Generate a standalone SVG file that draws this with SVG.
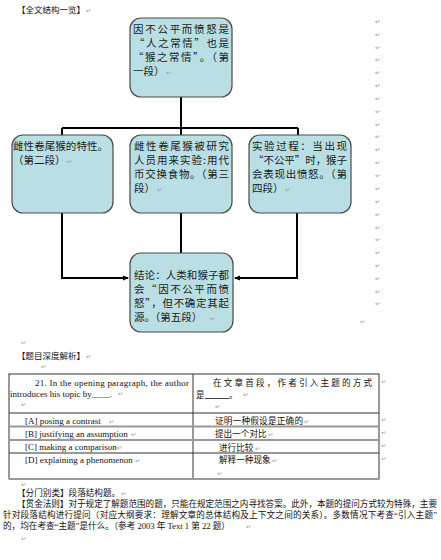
<svg xmlns="http://www.w3.org/2000/svg" width="441" height="560" viewBox="0 0 441 560">
<defs>
<style>
.box{fill:#b9dfe5;stroke:#4a4a4a;stroke-width:1.2}
.bt{font-family:"Noto Sans CJK SC","Noto Sans",sans-serif;font-size:10.5px;fill:#1a1a1a}
.hd{font-family:"Liberation Serif","Noto Sans CJK SC",serif;font-size:8.5px;fill:#111}
.en{font-family:"Liberation Serif","Times New Roman",serif;font-size:9px;fill:#111}
.cn{font-family:"Liberation Serif","Noto Sans CJK SC",serif;font-size:8.6px;fill:#111}
.rm{font-family:"DejaVu Sans",sans-serif;font-size:6.5px;fill:#9a9a9a}
.ln{stroke:#000;stroke-width:2;fill:none}
.tb{stroke:#333;stroke-width:1;fill:none}
.tg{stroke:#999;stroke-width:2;fill:none}
</style>
<marker id="ar" markerWidth="6" markerHeight="6" refX="5" refY="3" orient="auto" markerUnits="userSpaceOnUse">
<path d="M0,0.5 L6,3 L0,5.5 z" fill="#000"/>
</marker>
</defs>
<rect width="441" height="560" fill="#fff"/>

<text class="hd" x="17" y="13">【全文结构一览】</text><text class="rm" x="86" y="13">↵</text>

<g id="connectors">
<path class="ln" d="M181,97 V128"/>
<path class="ln" d="M62,128 H298"/>
<path class="ln" d="M62,128 V135 M181,128 V135 M298,128 V135"/>
<path class="ln" d="M62,213 V278 H128" marker-end="url(#ar)"/>
<path class="ln" d="M181,213 V253"/>
<path class="ln" d="M297,213 V278 H235" marker-end="url(#ar)"/>
</g>

<g id="node-top">
<rect class="box" x="130" y="18" width="102" height="79" rx="11"/>
<text class="bt" x="133" y="33" textLength="96" lengthAdjust="spacing">因不公平而愤怒是</text>
<text class="bt" x="134" y="47" textLength="95" lengthAdjust="spacing">“人之常情”也是</text>
<text class="bt" x="133" y="61" textLength="96" lengthAdjust="spacing">“猴之常情”。（第</text>
<text class="bt" x="133" y="75">一段）</text><text class="rm" x="166" y="75">↵</text>
</g>

<g id="node-p2">
<rect class="box" x="12" y="135" width="101" height="78" rx="11"/>
<text class="bt" x="13" y="150" textLength="95" lengthAdjust="spacing">雌性卷尾猴的特性。</text>
<text class="bt" x="13" y="164">（第二段）</text><text class="rm" x="67" y="164">↵</text>
</g>

<g id="node-p3">
<rect class="box" x="130" y="135" width="102" height="78" rx="11"/>
<text class="bt" x="134" y="150" textLength="95" lengthAdjust="spacing">雌性卷尾猴被研究</text>
<text class="bt" x="134" y="164" textLength="95" lengthAdjust="spacing">人员用来实验:用代</text>
<text class="bt" x="134" y="178" textLength="95" lengthAdjust="spacing">币交换食物。（第三</text>
<text class="bt" x="134" y="192">段）</text><text class="rm" x="157" y="192">↵</text>
</g>

<g id="node-p4">
<rect class="box" x="249" y="135" width="102" height="78" rx="11"/>
<text class="bt" x="252" y="150" textLength="95" lengthAdjust="spacing">实验过程：当出现</text>
<text class="bt" x="253" y="164" textLength="94" lengthAdjust="spacing">“不公平”时，猴子</text>
<text class="bt" x="252" y="178" textLength="95" lengthAdjust="spacing">会表现出愤怒。（第</text>
<text class="bt" x="252" y="192">四段）</text><text class="rm" x="285" y="192">↵</text>
</g>

<g id="node-p5">
<rect class="box" x="130" y="253" width="103" height="79" rx="11"/>
<text class="bt" x="134" y="279" textLength="95" lengthAdjust="spacing">结论：人类和猴子都</text>
<text class="bt" x="134" y="293" textLength="95" lengthAdjust="spacing">会“因不公平而愤</text>
<text class="bt" x="134" y="307" textLength="95" lengthAdjust="spacing">怒”，但不确定其起</text>
<text class="bt" x="134" y="321">源。（第五段）</text><text class="rm" x="210" y="321">↵</text>
</g>

<g id="returns">
<text class="rm" x="375" y="24">↵</text><text class="rm" x="375" y="37">↵</text><text class="rm" x="375" y="50">↵</text>
<text class="rm" x="375" y="62">↵</text><text class="rm" x="375" y="75">↵</text><text class="rm" x="375" y="88">↵</text>
<text class="rm" x="375" y="101">↵</text><text class="rm" x="375" y="114">↵</text><text class="rm" x="375" y="127">↵</text>
<text class="rm" x="375" y="139">↵</text><text class="rm" x="375" y="152">↵</text><text class="rm" x="375" y="165">↵</text>
<text class="rm" x="375" y="178">↵</text><text class="rm" x="375" y="191">↵</text><text class="rm" x="375" y="204">↵</text>
<text class="rm" x="375" y="217">↵</text><text class="rm" x="375" y="230">↵</text><text class="rm" x="375" y="242">↵</text>
<text class="rm" x="375" y="255">↵</text><text class="rm" x="375" y="268">↵</text><text class="rm" x="375" y="281">↵</text>
<text class="rm" x="375" y="294">↵</text><text class="rm" x="375" y="306">↵</text>
<text class="rm" x="360" y="324">↵</text>
<text class="rm" x="21" y="345">↵</text>
</g>

<text class="hd" x="17" y="359">【题目深度解析】</text><text class="rm" x="86" y="359">↵</text>
<text class="rm" x="41" y="369">↵</text>

<g id="table">
<rect class="tb" x="9" y="374" width="370" height="105"/>
<line class="tb" x1="193" y1="374" x2="193" y2="479"/>
<line class="tb" x1="9" y1="413" x2="379" y2="413"/>
<line class="tg" x1="9" y1="426.5" x2="379" y2="426.5"/>
<line class="tg" x1="9" y1="440" x2="379" y2="440"/>
<line class="tb" x1="9" y1="453" x2="379" y2="453"/>
<line class="tg" x1="9" y1="479" x2="379" y2="479"/>

<text class="en" x="35" y="386" textLength="154" lengthAdjust="spacing">21. In the opening paragraph, the author</text>
<text class="en" x="10" y="397">introduces his topic by____.</text><text class="rm" x="118" y="396">↵</text>
<text class="rm" x="21" y="407">↵</text>
<text class="en" x="25" y="424">[A] posing a contrast</text><text class="rm" x="109" y="424">↵</text>
<text class="en" x="25" y="437">[B] justifying an assumption</text><text class="rm" x="131" y="437">↵</text>
<text class="en" x="25" y="450">[C] making a comparison</text><text class="rm" x="117" y="450">↵</text>
<text class="en" x="25" y="463">[D] explaining a phenomenon</text><text class="rm" x="135" y="463">↵</text>

<text class="cn" x="213" y="386" textLength="159" lengthAdjust="spacing">在文章首段，作者引入主题的方式</text>
<text class="cn" x="196" y="398">是</text><line x1="205" y1="398.5" x2="229" y2="398.5" stroke="#111" stroke-width="0.8"/>
<text class="cn" x="229" y="398">。</text><text class="rm" x="243" y="397">↵</text>
<text class="rm" x="215" y="409">↵</text>
<text class="cn" x="215" y="424" textLength="88" lengthAdjust="spacing">证明一种假设是正确的</text><text class="rm" x="304" y="424">↵</text>
<text class="cn" x="215" y="437">提出一个对比</text><text class="rm" x="268" y="437">↵</text>
<text class="cn" x="219" y="451">进行比较</text><text class="rm" x="255" y="451">↵</text>
<text class="cn" x="219" y="463">解释一种现象</text><text class="rm" x="272" y="463">↵</text>
<text class="rm" x="217" y="476">↵</text>

<text class="rm" x="381" y="384">↵</text><text class="rm" x="381" y="422">↵</text><text class="rm" x="381" y="435">↵</text>
<text class="rm" x="381" y="448">↵</text><text class="rm" x="381" y="461">↵</text>
</g>

<text class="rm" x="21" y="487">↵</text>
<text class="cn" x="17" y="496">【分门别类】段落结构题。</text><text class="rm" x="121" y="496">↵</text>
<text class="cn" x="17" y="507" textLength="420" lengthAdjust="spacing">【贯金法则】对于规定了解题范围的题，只能在规定范围之内寻找答案。此外，本题的提问方式较为特殊，主要</text>
<text class="cn" x="3" y="518" textLength="434" lengthAdjust="spacing">针对段落结构进行提问（对应大纲要求：理解文章的总体结构及上下文之间的关系）。多数情况下考查“引入主题”</text>
<text class="cn" x="3" y="529">的，均在考查“主题”是什么。（参考 2003 年 Text 1 第 22 题）</text><text class="rm" x="246" y="529">↵</text>
<text class="rm" x="21" y="541">↵</text>
</svg>
